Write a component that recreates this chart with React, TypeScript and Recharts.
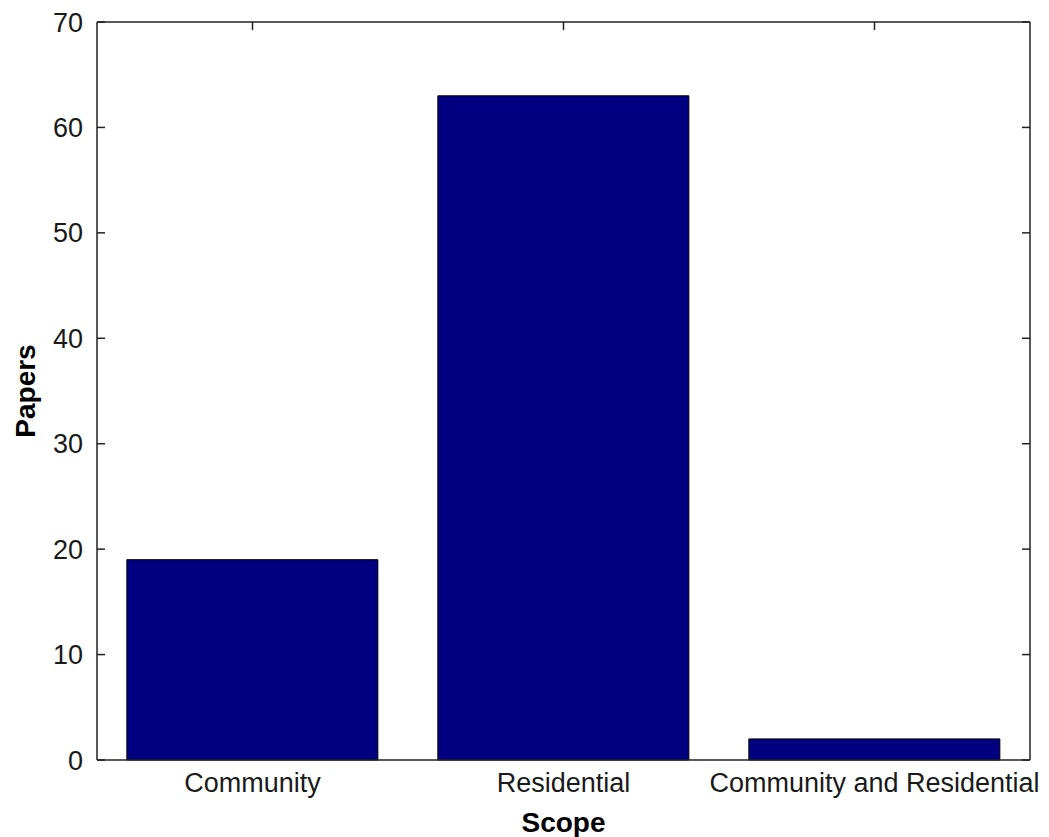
import React from 'react';
import { BarChart, Bar, XAxis, YAxis } from 'recharts';

const categories = ['Community', 'Residential', 'Community and Residential'];
const papers = [19, 63, 2];
const yTicks = [0, 10, 20, 30, 40, 50, 60, 70];

const data = categories.map((c, i) => ({ scope: c, papers: papers[i] }));

const FONT = '"Liberation Sans", Arial, sans-serif';
const axisColor = '#222';
const noLabel = () => <g />;

export default function App() {
  return (
    <div style={{ position: 'absolute', left: 0, top: 0, background: '#fff' }}>
      <BarChart
        width={1049}
        height={837}
        data={data}
        margin={{ top: 22, right: 19, left: 0, bottom: 0 }}
        barCategoryGap="9.6%"
      >
        <XAxis
          dataKey="scope"
          xAxisId="bottom"
          orientation="bottom"
          height={77}
          stroke={axisColor}
          strokeWidth={1.5}
          tickLine={false}
          tickSize={6}
          tickMargin={7}
          tick={{ fill: '#1a1a1a', fontSize: 27, fontFamily: FONT }}
          interval={0}
          label={{
            value: 'Scope',
            position: 'center',
            dy: 24,
            fill: '#000',
            fontSize: 28,
            fontWeight: 'bold',
            fontFamily: FONT,
          }}
        />
        <XAxis
          dataKey="scope"
          xAxisId="top"
          orientation="top"
          mirror
          stroke={axisColor}
          strokeWidth={1.5}
          tickSize={8}
          tick={noLabel}
          interval={0}
        />
        <YAxis
          yAxisId="left"
          orientation="left"
          width={97}
          domain={[0, 70]}
          ticks={yTicks}
          stroke={axisColor}
          strokeWidth={1.5}
          tickLine={false}
          tickSize={6}
          tickMargin={8}
          tick={{ fill: '#1a1a1a', fontSize: 27, fontFamily: FONT }}
          label={{
            value: 'Papers',
            angle: -90,
            position: 'center',
            dx: -23,
            fill: '#000',
            fontSize: 28,
            fontWeight: 'bold',
            fontFamily: FONT,
          }}
        />
        <YAxis
          yAxisId="leftTicks"
          orientation="left"
          mirror
          type="number"
          allowDataOverflow
          domain={[0, 70]}
          ticks={yTicks}
          interval={0}
          stroke={axisColor}
          strokeWidth={1.5}
          axisLine={false}
          tickSize={8}
          tick={noLabel}
        />
        <YAxis
          yAxisId="right"
          orientation="right"
          mirror
          type="number"
          allowDataOverflow
          domain={[0, 70]}
          ticks={yTicks}
          interval={0}
          stroke={axisColor}
          strokeWidth={1.5}
          tickSize={8}
          tick={noLabel}
        />
        <Bar
          dataKey="papers"
          xAxisId="bottom"
          yAxisId="left"
          fill="#000080"
          stroke="#000"
          strokeWidth={1}
          isAnimationActive={false}
        />
      </BarChart>
    </div>
  );
}
